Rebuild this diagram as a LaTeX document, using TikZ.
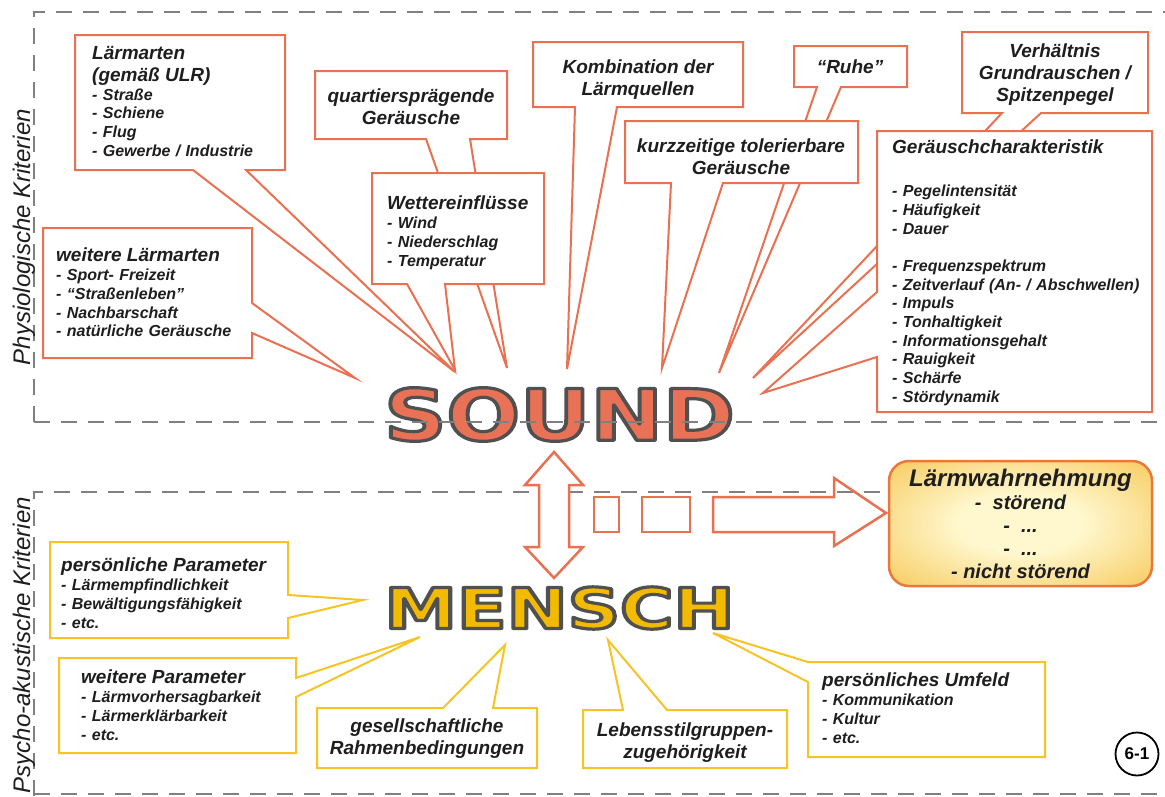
\documentclass[tikz,border=0pt]{standalone}
\usepackage{fontspec}
\setmainfont{Liberation Sans}
\newfontfamily\blockfont{DejaVu Sans}

\definecolor{soundline}{RGB}{233,112,80}
\definecolor{soundfill}{RGB}{233,114,86}
\definecolor{menschline}{RGB}{246,196,36}
\definecolor{menschfill}{RGB}{242,186,0}
\definecolor{dashgray}{RGB}{128,128,128}
\definecolor{textdark}{RGB}{30,30,30}
\definecolor{glowinner}{RGB}{255,247,205}
\definecolor{glowouter}{RGB}{241,176,28}
\definecolor{wahrline}{RGB}{234,120,58}

\pgfdeclareradialshading{glow}{\pgfpoint{0bp}{0bp}}{color(0bp)=(glowinner); color(12bp)=(glowinner); color(50bp)=(glowouter); color(100bp)=(glowouter)}

\newcommand\boxhead{\fontsize{19}{22}\selectfont\bfseries\itshape}
\newcommand\boxitem{\fontsize{16}{18.7}\selectfont\bfseries\itshape}
% filled letters with a gray outline
\newcommand\strokedword[2]{\textcolor{#1}{\special{pdf:literal direct 0.314 0.314 0.314 RG 3.2 w 1 j 2 Tr}#2\special{pdf:literal direct 0 Tr 0 j}}}

\tikzset{
  sndbox/.style={draw=soundline, line width=2pt, fill=white},
  mnsbox/.style={draw=menschline, line width=2pt, fill=white},
  framedash/.style={draw=dashgray, line width=2pt, dash pattern=on 16pt off 11pt},
  listtext/.style={anchor=north west, inner sep=0pt, text width=290pt, align=left, font=\boxitem, text=textdark},
  midtext/.style={inner sep=0pt, align=center, font=\boxhead, text=textdark},
  sndarrow/.style={draw=soundline, line width=2.5pt},
  sidelabel/.style={rotate=90, inner sep=0pt, font=\fontsize{24}{24}\selectfont\itshape, text=textdark},
  wahrbox/.style={draw=wahrline, line width=2.5pt, rounded corners=20pt, shading=glow,
    minimum width=263pt, minimum height=125pt, inner sep=0pt, align=center,
    font=\fontsize{20}{23}\selectfont\bfseries\itshape, text=textdark},
}

\begin{document}
\begin{tikzpicture}[x=1pt, y=-1pt]
        \fill[white] (0,0) rectangle (1165,796);
        \useasboundingbox (0,0) rectangle (1165,796);

        % Frames and side labels
        \draw[framedash] (34,422) -- (34,12) -- (1165,12);
        \node[sidelabel] (physio) at (24,237) {Physiologische Kriterien};
        \draw[framedash] (34,796) -- (34,492) -- (1000,492);
        \draw[framedash] (34,794) -- (1165,794);
        \node[sidelabel] (psycho) at (24,645) {Psycho-akustische Kriterien};

        % Callouts pointing to SOUND
        \draw[sndbox] (75,35) -- (285,35) -- (285,170) -- (246,170) -- (455,372) -- (193,170) -- (75,170) -- cycle;
        \node[listtext] (laermarten) at (92,46) {{\boxhead Lärmarten\\(gemäß ULR)\par}- Straße\\- Schiene\\- Flug\\- Gewerbe / Industrie};

        \draw[sndbox] (43,228) -- (252,228) -- (252,303) -- (355,378) -- (252,333) -- (252,358) -- (43,358) -- cycle;
        \node[listtext] (weitere) at (56,248) {{\boxhead weitere Lärmarten\par}- Sport- Freizeit\\- “Straßenleben”\\- Nachbarschaft\\- natürliche Geräusche};

        \draw[sndbox] (315,71) -- (507,71) -- (507,139) -- (470,139) -- (507,368) -- (426,139) -- (315,139) -- cycle;
        \node[midtext] (quartier) at (411,107) {quartiersprägende\\Geräusche};

        \draw[sndbox] (372,173) -- (544,173) -- (544,284) -- (445,284) -- (455,370) -- (407,284) -- (372,284) -- cycle;
        \node[listtext] (wetter) at (387,196) {{\boxhead Wettereinflüsse\par}- Wind\\- Niederschlag\\- Temperatur};

        \draw[sndbox] (533,42) -- (743,42) -- (743,107) -- (617,107) -- (567,369) -- (575,107) -- (533,107) -- cycle;
        \node[midtext] (kombination) at (638,80) {Kombination der\\Lärmquellen};

        \draw[sndbox] (794,46) -- (907,46) -- (907,87) -- (841,87) -- (719,373) -- (817,87) -- (794,87) -- cycle;
        \node[midtext] (ruhe) at (850,67) {“Ruhe”};

        \draw[sndbox] (625,121) -- (858,121) -- (858,183) -- (723,183) -- (662,368) -- (671,183) -- (625,183) -- cycle;
        \node[midtext] (kurzzeitig) at (741,157) {kurzzeitige tolerierbare\\Geräusche};

        \draw[sndbox] (962,32) -- (1148,32) -- (1148,113) -- (1041,113) -- (753,378) -- (1002,113) -- (962,113) -- cycle;
        \node[midtext] (verhaeltnis) at (1055,75) {Verhältnis\\Grundrauschen /\\Spitzenpegel};

        \draw[sndbox] (877,131) -- (1152,131) -- (1152,412) -- (877,412) -- (877,357) -- (763,393) -- (877,292) -- cycle;
        \node[listtext] (geraeusch) at (892,140) {{\boxhead Geräuschcharakteristik\par}\vspace{24pt}- Pegelintensität\\- Häufigkeit\\- Dauer\par\vspace{18.7pt}- Frequenzspektrum\\- Zeitverlauf (An- / Abschwellen)\\- Impuls\\- Tonhaltigkeit\\- Informationsgehalt\\- Rauigkeit\\- Schärfe\\- Stördynamik};

        % SOUND
        \node[inner sep=0pt, font=\blockfont\bfseries\fontsize{71}{71}\selectfont] (sound) at (559.5,414.5) {\scalebox{1.22}[1]{\strokedword{soundfill}{SOUND}}};
        \draw[framedash] (34,422) -- (1165,422);

        % Arrows
        \draw[sndarrow, fill=white] (554,452) -- (583,485) -- (569,485) -- (569,547) -- (583,547) -- (554,578) -- (525,547) -- (539,547) -- (539,485) -- (525,485) -- cycle;
        \draw[sndarrow] (594,497) rectangle (619,532);
        \draw[sndarrow] (642,497) rectangle (690,532);
        \draw[sndarrow] (713,497) -- (834,497) -- (834,478) -- (886,513) -- (834,546) -- (834,532) -- (713,532) -- cycle;

        % Perception
        \node[wahrbox] (wahr) at (1020.5,523.5) {{\fontsize{24}{23}\selectfont Lärmwahrnehmung}\\-\ \ störend\\-\ \ ...\\-\ \ ...\\- nicht störend};

        % MENSCH
        \node[inner sep=0pt, font=\blockfont\bfseries\fontsize{56}{56}\selectfont] (mensch) at (559.5,608) {\scalebox{1.30}[1]{\strokedword{menschfill}{MENSCH}}};

        % Callouts pointing to MENSCH
        \draw[mnsbox] (50,542) -- (288,542) -- (288,595) -- (363,600) -- (288,618) -- (288,638) -- (50,638) -- cycle;
        \node[listtext] (persParam) at (61,558) {{\boxhead persönliche Parameter\par}- Lärmempfindlichkeit\\- Bewältigungsfähigkeit\\- etc.};

        \draw[mnsbox] (59,658) -- (296,658) -- (296,678) -- (420,637) -- (296,697) -- (296,753) -- (59,753) -- cycle;
        \node[listtext] (weitParam) at (81,670) {{\boxhead weitere Parameter\par}- Lärmvorhersagbarkeit\\- Lärmerklärbarkeit\\- etc.};

        \draw[mnsbox] (317,708) -- (443,708) -- (505,645) -- (493,708) -- (537,708) -- (537,768) -- (317,768) -- cycle;
        \node[midtext] (gesell) at (427,739) {gesellschaftliche\\Rahmenbedingungen};

        \draw[mnsbox] (583,710) -- (623,710) -- (608,640) -- (667,710) -- (787,710) -- (787,768) -- (583,768) -- cycle;
        \node[midtext] (lebensstil) at (685,743) {Lebensstilgruppen-\\zugehörigkeit};

        \draw[mnsbox] (808,662) -- (1045,662) -- (1045,757) -- (808,757) -- (808,682) -- (713,633) -- cycle;
        \node[listtext] (umfeld) at (822,673) {{\boxhead persönliches Umfeld\par}- Kommunikation\\- Kultur\\- etc.};

        % Page mark
        \node[draw, circle, line width=1.8pt, minimum size=43pt, inner sep=0pt, font=\bfseries\fontsize{17}{17}\selectfont] (pagemark) at (1137,754) {6-1};
\end{tikzpicture}
\end{document}
